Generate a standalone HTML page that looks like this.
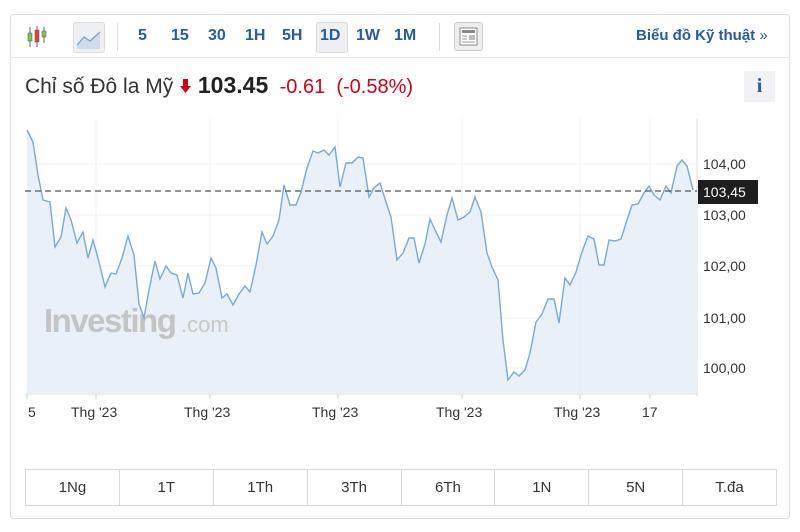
<!DOCTYPE html>
<html><head><meta charset="utf-8"><style>
body{margin:0;background:#fff;width:800px;height:532px;overflow:hidden;font-family:"Liberation Sans",sans-serif;}
.card{position:absolute;left:10px;top:14px;width:780px;height:505px;border:1px solid #e0e0e0;border-radius:4px;box-sizing:border-box;}
.hdr{position:absolute;left:0;top:0;width:100%;height:42px;border-bottom:1px solid #e3e3e3;}
.t{position:absolute;font-weight:bold;color:#2a5aa0;font-size:16px;top:12px;}
.btns{position:absolute;left:25px;top:469px;width:752px;height:37px;border:1px solid #d8d8d8;box-sizing:border-box;display:flex;}
.btns div{flex:1;border-right:1px solid #d8d8d8;text-align:center;line-height:35px;font-size:15px;color:#333;}
.btns div:last-child{border-right:none}
</style></head><body>
<div class="card">
<div class="hdr">
<svg style="position:absolute;left:14px;top:10px" width="24" height="24"><line x1="5" y1="2" x2="5" y2="22" stroke="#666"/><rect x="3" y="8" width="4" height="8" fill="#7c4" stroke="#555" stroke-width=".5"/><line x1="12" y1="1" x2="12" y2="22" stroke="#666"/><rect x="10" y="5" width="4" height="12" fill="#d44" stroke="#555" stroke-width=".5"/><line x1="19" y1="2" x2="19" y2="18" stroke="#666"/><rect x="17" y="6" width="4" height="6" fill="#7c4" stroke="#555" stroke-width=".5"/></svg>
<div style="position:absolute;left:62px;top:7px;width:30px;height:29px;background:#eef0f3;border:1px solid #dcdcdc;border-radius:3px"><svg width="30" height="29"><path d="M3 22 L10 14 L16 18 L26 9 L26 26 L3 26Z" fill="#cfdcee"/><path d="M3 22 L10 14 L16 18 L26 9" stroke="#7aa0d0" fill="none" stroke-width="1.3"/></svg></div>
<div style="position:absolute;left:106px;top:8px;width:1px;height:28px;background:#ddd"></div>
<span class="t" style="left:127px">5</span><span class="t" style="left:160px">15</span><span class="t" style="left:197px">30</span><span class="t" style="left:234px">1H</span><span class="t" style="left:271px">5H</span>
<div style="position:absolute;left:305px;top:7px;width:30px;height:29px;background:#eef0f3;border:1px solid #dcdcdc;border-radius:3px"></div>
<span class="t" style="left:309px">1D</span><span class="t" style="left:345px">1W</span><span class="t" style="left:383px">1M</span>
<div style="position:absolute;left:428px;top:8px;width:1px;height:28px;background:#ddd"></div>
<div style="position:absolute;left:443px;top:7px;width:27px;height:27px;background:#eee;border:1px solid #ccc;border-radius:3px"><svg width="27" height="27"><rect x="5" y="5" width="17" height="17" fill="#fff" stroke="#888"/><rect x="7" y="7" width="13" height="3" fill="#888"/><line x1="7" y1="13" x2="12" y2="13" stroke="#999"/><line x1="7" y1="16" x2="12" y2="16" stroke="#999"/><line x1="7" y1="19" x2="20" y2="19" stroke="#999"/><rect x="14" y="12" width="6" height="5" fill="#bbb"/></svg></div>
<span class="t" style="left:625px;font-size:15px;top:12px">Biểu đồ Kỹ thuật <span style="font-weight:normal;color:#2a5aa0">»</span></span>
</div>
<div style="position:absolute;left:14px;top:57px;font-size:21px;color:#333;white-space:nowrap">Chỉ số Đô la Mỹ <svg width="13" height="16" style="vertical-align:-1px"><path d="M4 1 H9 V8 H12 L6.5 15 L1 8 H4 Z" fill="#d0021b"/></svg> <b style="color:#222;font-size:23px">103.45</b> <span style="color:#d0021b;font-size:20px">&nbsp;-0.61 &nbsp;(-0.58%)</span></div>
<div style="position:absolute;left:733px;top:56px;width:31px;height:31px;background:#f0f2f5;color:#2a5aa0;font-weight:bold;font-family:'Liberation Serif',serif;font-size:20px;text-align:center;line-height:31px">i</div>
</div>
<svg style="position:absolute;left:0;top:0" width="800" height="532">
<g stroke="#f0f0f0" stroke-width="1">
<line x1="96" y1="118" x2="96" y2="393"/><line x1="210" y1="118" x2="210" y2="393"/><line x1="338" y1="118" x2="338" y2="393"/><line x1="462" y1="118" x2="462" y2="393"/><line x1="580" y1="118" x2="580" y2="393"/><line x1="650" y1="118" x2="650" y2="393"/>
<line x1="27" y1="164" x2="697" y2="164"/><line x1="27" y1="215" x2="697" y2="215"/><line x1="27" y1="266" x2="697" y2="266"/><line x1="27" y1="318" x2="697" y2="318"/><line x1="27" y1="368" x2="697" y2="368"/>
</g>
<line x1="697" y1="118" x2="697" y2="396" stroke="#ddd"/>
<line x1="25" y1="394" x2="697" y2="394" stroke="#ddd"/>
<g stroke="#ccc"><line x1="27" y1="394" x2="27" y2="399"/><line x1="96" y1="394" x2="96" y2="399"/><line x1="210" y1="394" x2="210" y2="399"/><line x1="338" y1="394" x2="338" y2="399"/><line x1="462" y1="394" x2="462" y2="399"/><line x1="580" y1="394" x2="580" y2="399"/><line x1="650" y1="394" x2="650" y2="399"/></g>
<path id="p" d="M27,130 L33,142 L38,175 L43,200 L50,202 L55,247 L61,237 L66,208 L71,220 L77,243 L83,232 L88,258 L93,240 L99,262 L105,287 L111,273 L116,274 L122,258 L128,236 L134,255 L139,304 L144,318 L149,290 L155,261 L160,279 L166,266 L171,273 L177,275 L183,298 L188,273 L193,294 L199,293 L205,283 L211,258 L216,268 L222,298 L227,294 L233,305 L239,294 L245,286 L250,292 L256,265 L262,232 L267,244 L273,236 L279,220 L284,185 L290,205 L296,205 L301,192 L307,168 L313,151 L318,153 L324,150 L329,155 L335,147 L340,187 L346,163 L352,163 L358,157 L363,158 L369,197 L374,188 L380,183 L386,202 L391,217 L397,260 L403,253 L409,238 L414,238 L419,263 L425,244 L430,219 L436,232 L441,242 L447,215 L452,198 L458,220 L464,217 L470,212 L475,197 L481,212 L487,253 L492,267 L498,280 L503,340 L508,380 L514,372 L519,376 L525,370 L530,353 L536,322 L542,314 L548,299 L554,299 L559,323 L565,278 L570,285 L576,272 L582,252 L588,236 L594,239 L599,265 L604,265 L609,240 L615,241 L621,239 L627,220 L632,205 L638,204 L644,193 L649,186 L654,195 L660,200 L666,186 L671,193 L677,166 L682,160 L687,166 L693,190" fill="none"/>
<path d="M27,130 L33,142 L38,175 L43,200 L50,202 L55,247 L61,237 L66,208 L71,220 L77,243 L83,232 L88,258 L93,240 L99,262 L105,287 L111,273 L116,274 L122,258 L128,236 L134,255 L139,304 L144,318 L149,290 L155,261 L160,279 L166,266 L171,273 L177,275 L183,298 L188,273 L193,294 L199,293 L205,283 L211,258 L216,268 L222,298 L227,294 L233,305 L239,294 L245,286 L250,292 L256,265 L262,232 L267,244 L273,236 L279,220 L284,185 L290,205 L296,205 L301,192 L307,168 L313,151 L318,153 L324,150 L329,155 L335,147 L340,187 L346,163 L352,163 L358,157 L363,158 L369,197 L374,188 L380,183 L386,202 L391,217 L397,260 L403,253 L409,238 L414,238 L419,263 L425,244 L430,219 L436,232 L441,242 L447,215 L452,198 L458,220 L464,217 L470,212 L475,197 L481,212 L487,253 L492,267 L498,280 L503,340 L508,380 L514,372 L519,376 L525,370 L530,353 L536,322 L542,314 L548,299 L554,299 L559,323 L565,278 L570,285 L576,272 L582,252 L588,236 L594,239 L599,265 L604,265 L609,240 L615,241 L621,239 L627,220 L632,205 L638,204 L644,193 L649,186 L654,195 L660,200 L666,186 L671,193 L677,166 L682,160 L687,166 L693,190 L696,190 L696,393 L27,393 Z" fill="#e6edf6" fill-opacity=".85"/>
<text x="44" y="332" font-family="Liberation Sans,sans-serif" font-size="33" font-weight="bold" fill="#c4c4c4" letter-spacing="-1.5">Investing</text>
<text x="181" y="332" font-family="Liberation Sans,sans-serif" font-size="22" fill="#c8c8c8">.com</text>
<use href="#p" stroke="#7ba7d6" stroke-width="1.4"/>
<line x1="25" y1="191" x2="697" y2="191" stroke="#555" stroke-dasharray="6,4" stroke-width="1.2"/>
<rect x="698" y="180" width="60" height="24" fill="#1e1e1e"/>
<g font-family="Liberation Sans,sans-serif" font-size="14" fill="#333">
<text x="703" y="169">104,00</text><text x="703" y="220">103,00</text><text x="703" y="271">102,00</text><text x="703" y="323">101,00</text><text x="703" y="373">100,00</text>
<text x="703" y="197" fill="#fff">103,45</text>
<text x="28" y="417">5</text><text x="71" y="417">Thg '23</text><text x="184" y="417">Thg '23</text><text x="312" y="417">Thg '23</text><text x="436" y="417">Thg '23</text><text x="554" y="417">Thg '23</text><text x="642" y="417">17</text>
</g>
</svg>
<div class="btns"><div>1Ng</div><div>1T</div><div>1Th</div><div>3Th</div><div>6Th</div><div>1N</div><div>5N</div><div>T.đa</div></div>
</body></html>
